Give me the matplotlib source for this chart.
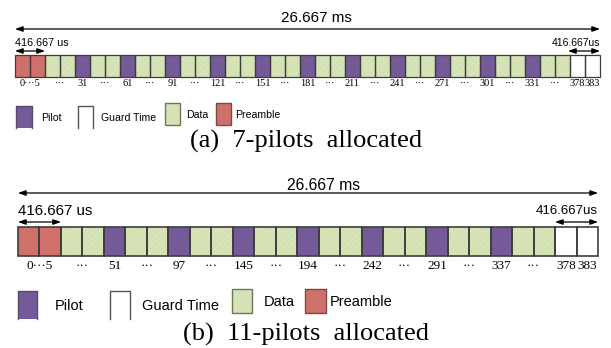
import matplotlib
matplotlib.use("Agg")
import matplotlib.pyplot as plt
from matplotlib.patches import Rectangle

# ---------------- data ----------------
# slot codes: R = preamble, D = data, P = pilot, G = guard time
slots_a = "RR" + "DDPDDPDDPDDPDDPDDPDDPDDPDDPDDPDDP" + "DDGG"
slots_b = "RR" + "DDPDDPDDPDDPDDPDDPDDP" + "DDGG"
labels_a = ["0\u00b7\u00b7\u00b75", "\u00b7\u00b7\u00b7", "31", "\u00b7\u00b7\u00b7", "61", "\u00b7\u00b7\u00b7", "91",
            "\u00b7\u00b7\u00b7", "121", "\u00b7\u00b7\u00b7", "151", "\u00b7\u00b7\u00b7", "181", "\u00b7\u00b7\u00b7", "211",
            "\u00b7\u00b7\u00b7", "241", "\u00b7\u00b7\u00b7", "271", "\u00b7\u00b7\u00b7", "301", "\u00b7\u00b7\u00b7", "331",
            "\u00b7\u00b7\u00b7", "378", "383"]
labels_b = ["0\u00b7\u00b7\u00b75", "\u00b7\u00b7\u00b7", "51", "\u00b7\u00b7\u00b7", "97", "\u00b7\u00b7\u00b7", "145",
            "\u00b7\u00b7\u00b7", "194", "\u00b7\u00b7\u00b7", "242", "\u00b7\u00b7\u00b7", "291", "\u00b7\u00b7\u00b7", "337",
            "\u00b7\u00b7\u00b7", "378", "383"]
legend_names = ["Pilot", "Guard Time", "Data", "Preamble"]
legend_codes = ["P", "G", "D", "R"]
total_text = "26.667 ms"
slot_text_left = "416.667 us"
slot_text_right = "416.667us"
captions = ["(a)  7-pilots  allocated", "(b)  11-pilots  allocated"]

colors = {"R": "#d0706a", "D": "#d6e4b8", "P": "#745a98", "G": "#ffffff"}
hatch_col = "#cbdaa9"
edge_col = "#3d3d3d"

SANS = ["Liberation Sans", "DejaVu Sans"]
SERIF = ["Liberation Serif", "DejaVu Serif"]

fig = plt.figure(figsize=(6.11, 3.48), dpi=100)
ax = fig.add_axes([0, 0, 1, 1])
ax.set_xlim(0, 611)
ax.set_ylim(348, 0)
ax.axis("off")
plt.rcParams["hatch.linewidth"] = 0.4


def groups(slots):
    """runs of equal codes; guard slots each on their own"""
    out = []
    i = 0
    while i < len(slots):
        j = i + 1
        if slots[i] != "G":
            while j < len(slots) and slots[j] == slots[i]:
                j += 1
        out.append((i, j))
        i = j
    return out


def arrow(x0, x1, y, hl, hw, lw):
    ax.annotate("", xy=(x0, y), xytext=(x1, y),
                arrowprops=dict(arrowstyle=f"<|-|>,head_length={hl},head_width={hw}",
                                color="black", lw=lw, shrinkA=0, shrinkB=0))


def panel(slots, labels, x0, x1, ytop, ybot, lab_y, lab_fs, lw,
          top_y, top_text_x, top_text_y, top_fs, small_text_y, small_arrow_y, small_fs_l, small_fs_r,
          small_right_x0):
    n = len(slots)
    w = (x1 - x0) / n
    xs = [x0 + i * w for i in range(n)]
    h = ybot - ytop
    for i, c in enumerate(slots):
        if c == "D":
            ax.bar(xs[i], h, width=w, bottom=ytop, align="edge", color=colors[c],
                   hatch="//////", edgecolor=hatch_col, lw=0, zorder=2)
        else:
            ax.bar(xs[i], h, width=w, bottom=ytop, align="edge", color=colors[c], lw=0, zorder=2)
        ax.bar(xs[i], h, width=w, bottom=ytop, align="edge", fill=False,
               edgecolor=edge_col, lw=lw, zorder=3)
    for (i, j), lab in zip(groups(slots), labels):
        cx = (xs[i] + xs[j - 1] + w) / 2
        ax.text(cx, lab_y, lab, ha="center", va="center", fontsize=lab_fs, family=SERIF)
    # overall duration
    arrow(x0, x1, top_y, 0.45, 0.16, 0.9)
    ax.text(top_text_x, top_text_y, total_text, ha="center", va="center",
            fontsize=top_fs, family=SANS)
    # slot duration, left and right
    ax.text(x0, small_text_y, slot_text_left, ha="left", va="center", fontsize=small_fs_l, family=SANS)
    arrow(x0, x0 + 2 * w, small_arrow_y, 0.45, 0.16, 0.9)
    ax.text(x1, small_text_y, slot_text_right, ha="right", va="center", fontsize=small_fs_r, family=SANS)
    arrow(small_right_x0, x1, small_arrow_y, 0.45, 0.16, 0.9)


def legend(items, fs):
    # items: (x_square, width, y_top, y_bottom, text_x, text_y)
    for code, name, (sx, sw, sy0, sy1, tx, ty) in zip(legend_codes, legend_names, items):
        if code in ("P", "G"):
            ax.add_patch(Rectangle((sx, sy0), sw, sy1 - sy0, facecolor=colors[code], lw=0, zorder=2))
            ax.plot([sx, sx, sx + sw, sx + sw], [sy1, sy0, sy0, sy1],
                    color="#555555" if code == "G" else "#5a4a70", lw=1.0, zorder=3)
        else:
            ax.add_patch(Rectangle((sx, sy0), sw, sy1 - sy0, facecolor=colors[code],
                                   hatch="//////" if code == "D" else None,
                                   edgecolor=hatch_col if code == "D" else colors[code], lw=0, zorder=2))
            ax.add_patch(Rectangle((sx, sy0), sw, sy1 - sy0, fill=False,
                                   edgecolor="#6b765c" if code == "D" else "#7a4a45", lw=1.0, zorder=3))
        ax.text(tx, ty, name, ha="left", va="center", fontsize=fs, family=SANS)


# panel (a)
panel(slots_a, labels_a, 15, 600, 55, 77, 83, 7.5, 0.9,
      29, 316, 18, 11, 42.5, 51, 7.8, 7.5, 568)
legend([(16, 16, 106, 128, 41, 118),
        (78, 15, 106, 128, 101, 118),
        (165, 15, 103, 125, 186, 115),
        (216, 15, 103, 125, 235, 115)], 7.6)
ax.text(306, 141, captions[0], ha="center", va="center", fontsize=19, family=SERIF)

# panel (b)
panel(slots_b, labels_b, 18, 598, 227, 256, 266, 9.5, 1.2,
      193, 324, 186, 11.3, 211, 222, 10.8, 9.5, 555)
legend([(18, 19, 291, 319, 55, 306),
        (110, 20, 291, 319, 142, 306),
        (232, 20, 289, 313, 264, 302),
        (305, 21, 289, 313, 330, 302)], 10.5)
ax.text(306, 334, captions[1], ha="center", va="center", fontsize=19, family=SERIF)

fig.savefig("out.png", dpi=100)
